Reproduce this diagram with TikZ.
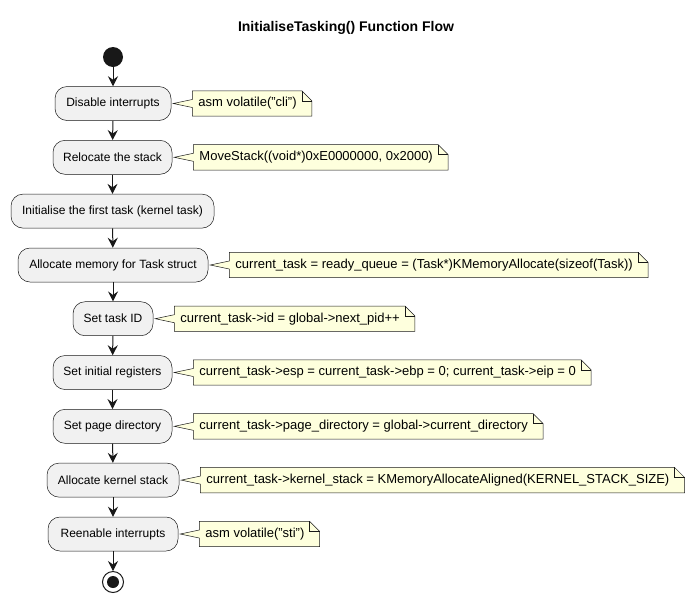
\documentclass[tikz,border=0pt]{standalone}
\usepackage{fontspec}
\setmainfont{Liberation Sans}
\usetikzlibrary{calc,arrows.meta}
\pgfdeclarelayer{background}
\pgfsetlayers{background,main}
\definecolor{boxfill}{HTML}{F1F1F1}
\definecolor{boxline}{HTML}{181818}
\definecolor{notefill}{HTML}{FEFFDD}
\definecolor{noteline}{HTML}{181818}
\tikzset{
  actbox/.style={draw=boxline, line width=0.5pt, fill=boxfill, rounded corners=12pt,
    minimum height=34pt, inner xsep=0pt, inner ysep=0pt, font=\fontsize{12}{14}\selectfont},
  notetext/.style={inner sep=0pt, minimum height=25pt, anchor=west, font=\fontsize{13}{15}\selectfont},
  noteshape/.style={draw=noteline, line width=0.5pt, fill=notefill, line join=miter},
  flow/.style={draw=boxline, line width=1pt, -{Stealth[length=10pt,width=10pt,inset=3.5pt]}},
}
\newcommand{\drawnote}[2]{%
  \begin{pgfonlayer}{background}
  \draw[noteshape] ($(#1.north west)+(-6,0)$) -- ($(#1.west)+(-6,-4)$) -- ($(#2.east)+(2,0)$)
    -- ($(#1.west)+(-6,4)$) -- ($(#1.south west)+(-6,0)$) -- ($(#1.south east)+(15,0)$)
    -- ($(#1.north east)+(15,10)$) -- ($(#1.north east)+(5,0)$) -- cycle;
  \draw[noteshape, fill=none] ($(#1.north east)+(5,0)$) -- ($(#1.north east)+(5,10)$) -- ($(#1.north east)+(15,10)$);
  \end{pgfonlayer}
}
\begin{document}
\begin{tikzpicture}[x=1pt, y=-1pt]
\useasboundingbox (0,0) rectangle (692,603);
\node[font=\bfseries\fontsize{14}{16}\selectfont] (title) at (346,28) {InitialiseTasking() Function Flow};
\node[circle, fill=boxline, minimum size=20pt, inner sep=0pt] (start) at (113,57) {};
\node[actbox, minimum width=116pt] (dis) at (113,103.5) {Disable interrupts};
\node[actbox, minimum width=119pt] (rel) at (112.5,157.3) {Relocate the stack};
\node[actbox, minimum width=203pt] (ini) at (112.5,211.1) {Initialise the first task (kernel task)};
\node[actbox, minimum width=190pt] (alm) at (113,265) {Allocate memory for Task struct};
\node[actbox, minimum width=80pt] (tid) at (113,318.7) {Set task ID};
\node[actbox, minimum width=119pt] (reg) at (112.5,372.5) {Set initial registers};
\node[actbox, minimum width=119pt] (pgd) at (112.5,426.3) {Set page directory};
\node[actbox, minimum width=132pt] (kst) at (113,480.1) {Allocate kernel stack};
\node[actbox, minimum width=130pt] (ren) at (113,534) {Reenable interrupts};
\node[circle, draw=boxline, line width=1pt, minimum size=21pt, inner sep=0pt] (stop) at (113,582) {};
\node[circle, fill=boxline, minimum size=12pt, inner sep=0pt] (stopdot) at (stop.center) {};

\draw[flow] (start) -- (dis);
\draw[flow] (dis) -- (rel);
\draw[flow] (rel) -- (ini);
\draw[flow] (ini) -- (alm);
\draw[flow] (alm) -- (tid);
\draw[flow] (tid) -- (reg);
\draw[flow] (reg) -- (pgd);
\draw[flow] (pgd) -- (kst);
\draw[flow] (kst) -- (ren);
\draw[flow] (ren) -- (stop);

\node[notetext] (n1) at ($(dis.east)+(27,0)$) {asm volatile("cli")};
\drawnote{n1}{dis}
\node[notetext] (n2) at ($(rel.east)+(27,0)$) {MoveStack((void*)0xE0000000, 0x2000)};
\drawnote{n2}{rel}
\node[notetext] (n3) at ($(alm.east)+(27,0)$) {current\_task = ready\_queue = (Task*)KMemoryAllocate(sizeof(Task))};
\drawnote{n3}{alm}
\node[notetext] (n4) at ($(tid.east)+(27,0)$) {current\_task->id = global->next\_pid++};
\drawnote{n4}{tid}
\node[notetext] (n5) at ($(reg.east)+(27,0)$) {current\_task->esp = current\_task->ebp = 0; current\_task->eip = 0};
\drawnote{n5}{reg}
\node[notetext] (n6) at ($(pgd.east)+(27,0)$) {current\_task->page\_directory = global->current\_directory};
\drawnote{n6}{pgd}
\node[notetext] (n7) at ($(kst.east)+(27,0)$) {current\_task->kernel\_stack = KMemoryAllocateAligned(KERNEL\_STACK\_SIZE)};
\drawnote{n7}{kst}
\node[notetext] (n8) at ($(ren.east)+(27,0)$) {asm volatile("sti")};
\drawnote{n8}{ren}
\end{tikzpicture}
\end{document}
